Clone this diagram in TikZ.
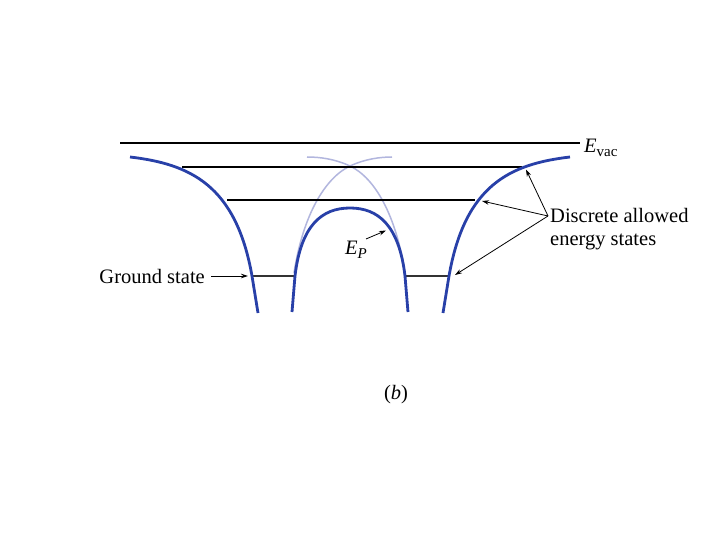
\documentclass[tikz,border=0pt]{standalone}
\usepackage{fontspec}
\setmainfont{Liberation Serif}
\usetikzlibrary{arrows.meta}
\definecolor{wblue}{RGB}{40,64,168}
\definecolor{lblue}{RGB}{178,182,222}
\begin{document}
\begin{tikzpicture}[x=1pt,y=-1pt,
  level/.style={line width=2pt, black},
  groundlvl/.style={line width=1.8pt, black!80},
  well/.style={line width=2.8pt, wblue},
  ghost/.style={line width=1.5pt, lblue},
  lbl/.style={font=\fontsize{20.5}{23.5}\selectfont, inner sep=0pt},
  ptr/.style={-{Stealth[length=7pt,width=4.5pt]}, line width=0.8pt}]
\useasboundingbox[fill=white] (0,0) rectangle (720,540);

% light individual potentials
\draw[ghost] (294,273) .. controls (303,215) and (325,178) .. (350,166)
  .. controls (365,159) and (380,157) .. (392,157);
\draw[ghost] (405,273) .. controls (396,215) and (375,178) .. (350,166)
  .. controls (335,159) and (320,157) .. (307,157);

% energy levels
\draw[level] (120,143) -- (580,143);
\draw[level] (182,167) -- (522,167);
\draw[level] (227,200) -- (475,200);
\draw[groundlvl] (252,276) -- (295,276);
\draw[groundlvl] (405,276) -- (450,276);

% combined potential
\draw[well] (130,157) .. controls (190,164) and (236,185) .. (252,276) -- (258,313);
\draw[well] (570,157) .. controls (510,164) and (465,185) .. (449,276) -- (443,313);
\draw[well] (292,312) -- (295,276) .. controls (301,225) and (322,208) .. (350,208)
  .. controls (378,208) and (399,225) .. (405,276) -- (408,312);

% labels
\node[lbl, anchor=west] (evac) at (584,148) {\textit{E}\raisebox{-0.35ex}{\fontsize{15}{17}\selectfont vac}};
\node[lbl, anchor=east] (gs) at (205,276) {Ground state};
\node[lbl, anchor=west, align=left] (das) at (550,229) {Discrete allowed\\energy states};
\node[lbl, inner sep=1pt] (ep) at (356,250) {\textit{E}\raisebox{-0.45ex}{\fontsize{15}{17}\selectfont\itshape P}};
\node[lbl] (b) at (396,395) {(\textit{b})};

% arrow targets
\coordinate (gsT) at (248,276);
\coordinate (epT) at (386,230.5);
\coordinate (dsrc) at (548,216);
\coordinate (d1) at (526,169.5);
\coordinate (d2) at (482,201);
\coordinate (d3) at (455,275);

\draw[ptr] ([xshift=6pt]gs.east) -- (gsT);
\draw[ptr] ([shift={(-2pt,1pt)}]ep.north east) -- (epT);
\draw[ptr] (dsrc) -- (d1);
\draw[ptr] (dsrc) -- (d2);
\draw[ptr] (dsrc) -- (d3);
\end{tikzpicture}
\end{document}
